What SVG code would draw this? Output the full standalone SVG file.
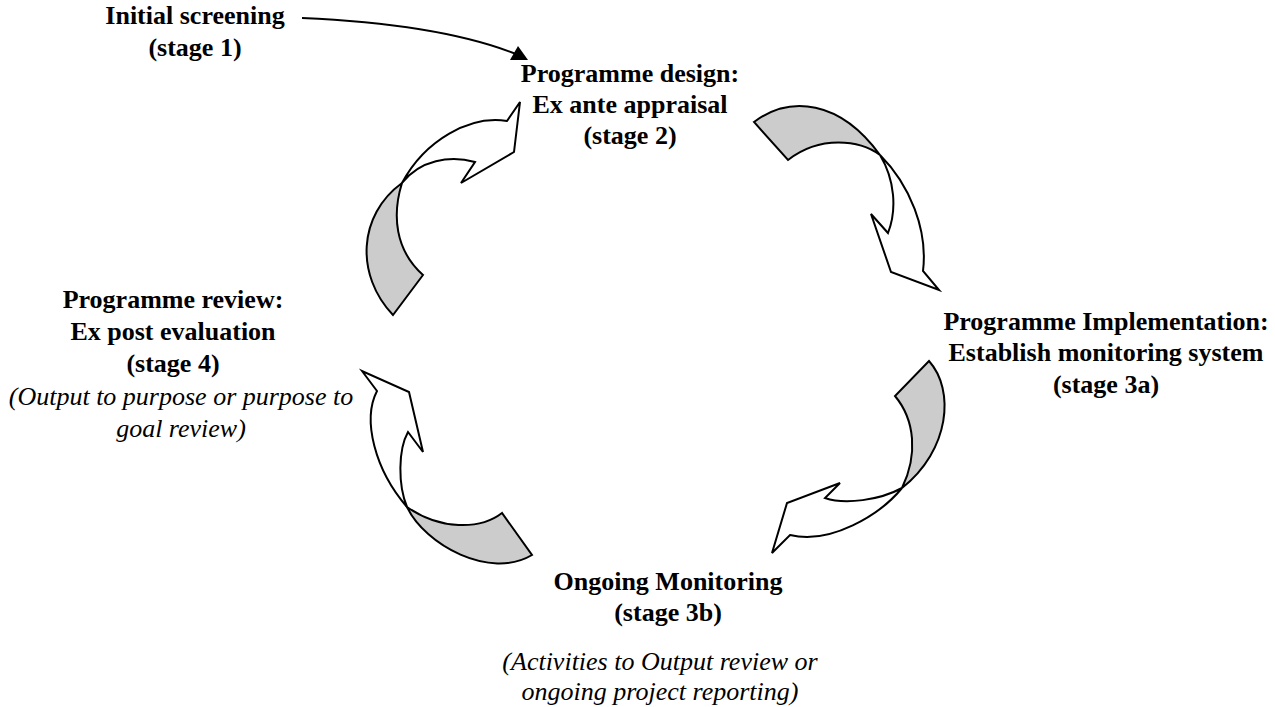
<svg xmlns="http://www.w3.org/2000/svg" width="1275" height="707" viewBox="0 0 1275 707">
<style>
.t{font-family:"Liberation Serif","Times New Roman",serif;font-size:26px;font-weight:bold;text-anchor:middle;fill:#000}
.i{font-family:"Liberation Serif","Times New Roman",serif;font-size:26px;font-style:italic;text-anchor:middle;fill:#000}
.g{fill:#cccccc;stroke:#000;stroke-width:2;stroke-linejoin:miter}
.w{fill:#ffffff;stroke:#000;stroke-width:2;stroke-linejoin:miter}
.c{fill:none;stroke:#000;stroke-width:2}
.h{fill:#000;stroke:none}
</style>
<rect width="1275" height="707" fill="#fff"/>
<g id="connectors">
<g id="screening-link">
<path class="c" d="M302,18 Q440,24 516,54"/>
<polygon class="h" points="518,46 510,60 528,60"/>
</g>
<g id="cycle-arrow-1">
<path class="g" d="M393,315 C355,275 358,215 402,183 C392,215 395,250 423,275 Z"/>
<path class="w" d="M402,183 C425,140 470,115 507,121 L520,102 L514,152 L461,183 L475,162 C450,155 420,160 402,183 Z"/>
</g>
<g id="cycle-arrow-2">
<path class="g" d="M754,122 C790,95 840,100 880,155 C860,140 820,135 788,160 Z"/>
<path class="w" d="M880,155 C910,185 928,230 923,271 L939,290 L891,272 L871,214 L888,233 C897,210 895,180 880,155 Z"/>
</g>
<g id="cycle-arrow-3">
<path class="g" d="M929,361 C955,390 950,450 902,488 C918,455 915,420 895,396 Z"/>
<path class="w" d="M902,488 C880,515 830,545 790,535 L772,553 L787,503 L840,483 L825,498 C845,505 880,500 902,488 Z"/>
</g>
<g id="cycle-arrow-4">
<path class="g" d="M407,507 C425,545 490,580 532,555 L502,513 C480,530 440,530 407,507 Z"/>
<path class="w" d="M362,371 L377,391 C362,420 375,470 407,507 C398,485 398,450 408,432 L423,452 L409,392 Z"/>
</g>
</g>
<g id="stage1">
<text class="t" x="195" y="24">Initial screening</text>
<text class="t" x="195" y="56">(stage 1)</text>
</g>
<g id="stage2">
<text class="t" x="630" y="82">Programme design:</text>
<text class="t" x="630" y="113">Ex ante appraisal</text>
<text class="t" x="630" y="144">(stage 2)</text>
</g>
<g id="stage3a">
<text class="t" x="1106" y="330">Programme Implementation:</text>
<text class="t" x="1106" y="361">Establish monitoring system</text>
<text class="t" x="1106" y="393">(stage 3a)</text>
</g>
<g id="stage3b">
<text class="t" x="668" y="590">Ongoing Monitoring</text>
<text class="t" x="668" y="621">(stage 3b)</text>
<text class="i" x="660" y="670">(Activities to Output review or</text>
<text class="i" x="660" y="700">ongoing project reporting)</text>
</g>
<g id="stage4">
<text class="t" x="173" y="308">Programme review:</text>
<text class="t" x="173" y="340">Ex post evaluation</text>
<text class="t" x="173" y="372">(stage 4)</text>
<text class="i" x="181" y="405">(Output to purpose or purpose to</text>
<text class="i" x="181" y="437">goal review)</text>
</g>
</svg>
